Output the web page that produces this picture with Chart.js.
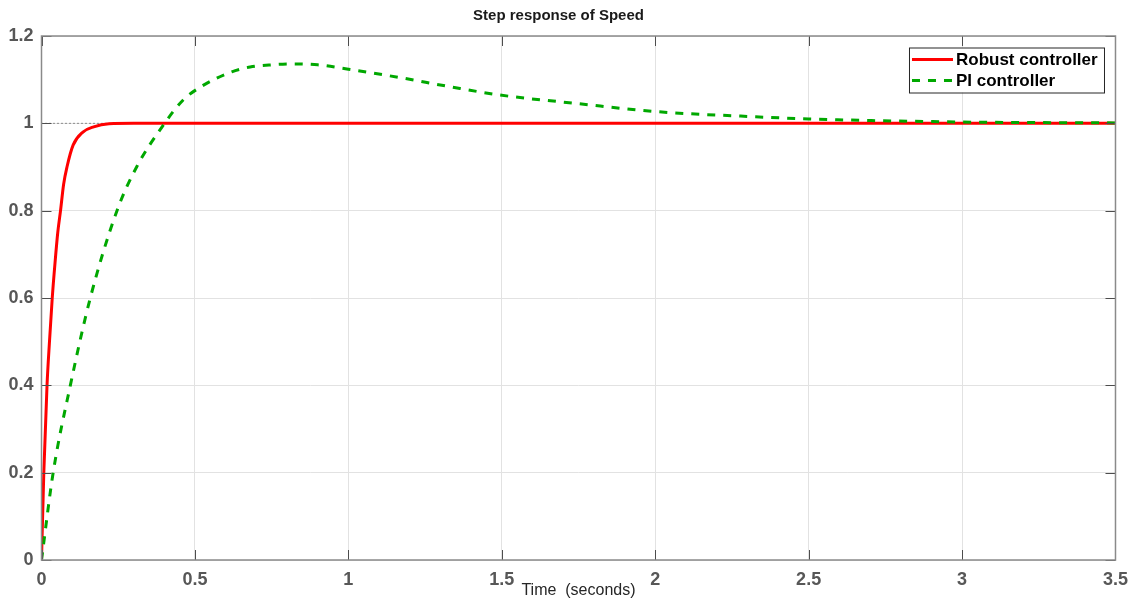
<!DOCTYPE html>
<html>
<head>
<meta charset="utf-8">
<title>Step response of Speed</title>
<script src="https://cdn.jsdelivr.net/npm/chart.js@4/dist/chart.umd.min.js"></script>
<style>
    html, body { margin: 0; padding: 0; background: #fff; }
    #wrap { width: 1137px; height: 602px; position: relative; }
</style>
</head>
<body>
<div id="wrap"><canvas id="stepChart"></canvas></div>
<script>
// Values
const robustTime  = [0, 0.0075, 0.018, 0.026, 0.035, 0.044, 0.053, 0.062, 0.072, 0.083, 0.103, 0.135, 0.17, 0.22, 0.3, 3.5];
const robustSpeed = [0, 0.2, 0.4, 0.5, 0.6, 0.68, 0.75, 0.8, 0.86, 0.9, 0.95, 0.98, 0.992, 0.999, 1, 1];

const piTime  = [0, 0.038, 0.094, 0.159, 0.246, 0.31, 0.401, 0.461, 0.52, 0.62, 0.68, 0.75, 0.82, 0.9, 1.0, 1.166, 1.33, 1.492, 1.75, 2.0, 2.327, 2.5, 3.0, 3.5];
const piSpeed = [0, 0.2, 0.4, 0.6, 0.8, 0.9, 1.0, 1.053, 1.084, 1.118, 1.129, 1.134, 1.136, 1.134, 1.124, 1.105, 1.084, 1.065, 1.045, 1.027, 1.015, 1.010, 1.003, 1.001];

// steady-state reference (dotted)
const refTime  = [0, 3.5];
const refLevel = [1, 1];

const xTickValues = [0, 0.5, 1, 1.5, 2, 2.5, 3, 3.5];
const yTickValues = [0, 0.2, 0.4, 0.6, 0.8, 1, 1.2];

const legendLabels = ['Robust controller', 'PI controller'];

const toPoints = (xs, ys) => xs.map((x, i) => ({ x: x, y: ys[i] }));
const fmtTick = v => String(Math.round(v * 10) / 10);

// Box round the plot, inner tick marks and the legend
const framePlugin = {
    id: 'frame',
    afterDatasetsDraw(chart) {
        const { ctx, chartArea: a, scales } = chart;
        ctx.save();

        // inner tick marks
        ctx.strokeStyle = '#4d4d4d';
        ctx.lineWidth = 1;
        ctx.beginPath();
        xTickValues.forEach(v => {
            const px = Math.round(scales.x.getPixelForValue(v)) + 0.5;
            ctx.moveTo(px, a.bottom); ctx.lineTo(px, a.bottom - 10);
            ctx.moveTo(px, a.top); ctx.lineTo(px, a.top + 10);
        });
        yTickValues.forEach(v => {
            const py = Math.round(scales.y.getPixelForValue(v)) + 0.5;
            ctx.moveTo(a.left, py); ctx.lineTo(a.left + 10, py);
            ctx.moveTo(a.right, py); ctx.lineTo(a.right - 10, py);
        });
        ctx.stroke();

        // frame
        ctx.strokeStyle = '#8a8a8a';
        ctx.lineWidth = 1.5;
        ctx.strokeRect(a.left, a.top, a.right - a.left, a.bottom - a.top);

        // legend
        const boxW = 195, boxH = 45;
        const bx = a.right - 11.5 - boxW;
        const by = a.top + 11.5;
        ctx.fillStyle = '#ffffff';
        ctx.fillRect(bx, by, boxW, boxH);
        ctx.strokeStyle = '#262626';
        ctx.lineWidth = 1;
        ctx.strokeRect(bx + 0.5, by + 0.5, boxW, boxH);

        ctx.font = 'bold 17px "Liberation Sans", Arial, sans-serif';
        ctx.textBaseline = 'middle';
        ctx.textAlign = 'left';
        legendLabels.forEach((label, i) => {
            const ds = chart.data.datasets.find(d => d.label === label);
            const y = by + 12 + i * 21;
            ctx.strokeStyle = ds.borderColor;
            ctx.lineWidth = ds.borderWidth;
            ctx.setLineDash(ds.borderDash || []);
            ctx.beginPath();
            ctx.moveTo(bx + 3, y);
            ctx.lineTo(bx + 44, y);
            ctx.stroke();
            ctx.setLineDash([]);
            ctx.fillStyle = '#000000';
            ctx.fillText(label, bx + 47, y + 1);
        });

        ctx.restore();
    }
};

const tickFont = { family: '"Liberation Sans", Arial, sans-serif', size: 18, weight: 'bold' };

new Chart(document.getElementById('stepChart').getContext('2d'), {
    type: 'line',
    data: {
        datasets: [
            {
                label: 'PI controller',
                data: toPoints(piTime, piSpeed),
                borderColor: '#00a800',
                borderWidth: 3,
                borderDash: [8, 8],
                pointRadius: 0,
                cubicInterpolationMode: 'monotone',
                order: 0
            },
            {
                label: 'Robust controller',
                data: toPoints(robustTime, robustSpeed),
                borderColor: '#ff0000',
                borderWidth: 3,
                pointRadius: 0,
                cubicInterpolationMode: 'monotone',
                order: 1
            },
            {
                label: 'Steady state',
                data: toPoints(refTime, refLevel),
                borderColor: '#333333',
                borderWidth: 1,
                borderDash: [1, 3],
                pointRadius: 0,
                order: 2
            }
        ]
    },
    options: {
        responsive: true,
        maintainAspectRatio: false,
        animation: false,
        layout: { padding: { left: 0, right: 20, top: 0, bottom: 0 } },
        plugins: {
            legend: { display: false },
            tooltip: { enabled: false },
            title: {
                display: true,
                text: 'Step response of Speed',
                color: '#1a1a1a',
                font: { family: '"Liberation Sans", Arial, sans-serif', size: 15, weight: 'bold' },
                padding: { top: 6.5, bottom: 11.5 }
            }
        },
        scales: {
            x: {
                type: 'linear',
                min: 0,
                max: 3.5,
                afterBuildTicks: scale => { scale.ticks = xTickValues.map(v => ({ value: v })); },
                afterFit: scale => { scale.height = 42; },
                grid: { color: '#e2e2e2', drawTicks: false },
                border: { display: false },
                ticks: { color: '#575757', font: tickFont, padding: 9, maxRotation: 0, callback: fmtTick },
                title: {
                    display: true,
                    text: 'Time  (seconds)',
                    color: '#262626',
                    font: { family: '"Liberation Sans", Arial, sans-serif', size: 16 },
                    padding: { top: 0, bottom: 2 }
                }
            },
            y: {
                type: 'linear',
                min: 0,
                max: 1.2,
                afterBuildTicks: scale => { scale.ticks = yTickValues.map(v => ({ value: v })); },
                afterFit: scale => { scale.width = 41.5; },
                grid: { color: '#e2e2e2', drawTicks: false },
                border: { display: false },
                ticks: { color: '#575757', font: tickFont, padding: 8, callback: fmtTick }
            }
        }
    },
    plugins: [framePlugin]
});
</script>
</body>
</html>
